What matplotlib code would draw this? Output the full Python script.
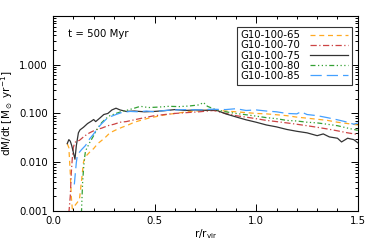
import matplotlib
matplotlib.use("Agg")
import matplotlib.pyplot as plt
from matplotlib.ticker import FixedLocator, MultipleLocator, LogLocator, NullFormatter, FormatStrFormatter

labels = ["G10-100-65", "G10-100-70", "G10-100-75", "G10-100-80", "G10-100-85"]
colors = ["#ffaa22", "#cc4444", "#333333", "#33a033", "#44a0ff"]

x65 = [0.070, 0.078, 0.085, 0.090, 0.095, 0.13, 0.14, 0.15, 0.16, 0.18, 0.20, 0.22, 0.24, 0.26, 0.28, 0.31, 0.34, 0.37, 0.40, 0.44, 0.48, 0.52, 0.56, 0.60, 0.66, 0.72, 0.79, 0.85, 0.90, 0.95, 1.00, 1.05, 1.10, 1.15, 1.20, 1.25, 1.30, 1.35, 1.40, 1.45, 1.50]
y65 = [0.024, 0.020, 0.006, 0.002, 0.0011, 0.0017, 0.004, 0.010, 0.013, 0.016, 0.019, 0.024, 0.028, 0.033, 0.040, 0.046, 0.052, 0.058, 0.066, 0.074, 0.082, 0.088, 0.095, 0.100, 0.108, 0.113, 0.118, 0.112, 0.108, 0.104, 0.100, 0.098, 0.094, 0.090, 0.084, 0.080, 0.076, 0.072, 0.066, 0.062, 0.058]

x70 = [0.078, 0.085, 0.090, 0.095, 0.100, 0.107, 0.115, 0.13, 0.15, 0.17, 0.19, 0.21, 0.24, 0.27, 0.30, 0.33, 0.36, 0.40, 0.45, 0.50, 0.55, 0.60, 0.66, 0.72, 0.79, 0.85, 0.90, 0.95, 1.00, 1.05, 1.10, 1.15, 1.20, 1.25, 1.30, 1.35, 1.40, 1.45, 1.50]
y70 = [0.0009, 0.002, 0.006, 0.012, 0.020, 0.025, 0.027, 0.028, 0.033, 0.038, 0.042, 0.046, 0.050, 0.056, 0.060, 0.066, 0.068, 0.074, 0.082, 0.090, 0.095, 0.100, 0.104, 0.108, 0.115, 0.100, 0.090, 0.084, 0.078, 0.072, 0.068, 0.064, 0.060, 0.056, 0.052, 0.048, 0.044, 0.040, 0.037]

x75 = [0.070, 0.078, 0.085, 0.092, 0.100, 0.108, 0.115, 0.125, 0.133, 0.15, 0.17, 0.19, 0.20, 0.21, 0.23, 0.25, 0.27, 0.29, 0.31, 0.33, 0.36, 0.40, 0.45, 0.50, 0.55, 0.60, 0.65, 0.70, 0.75, 0.80, 0.85, 0.90, 0.95, 1.00, 1.05, 1.10, 1.15, 1.20, 1.25, 1.30, 1.33, 1.36, 1.40, 1.42, 1.45, 1.48, 1.50]
y75 = [0.024, 0.029, 0.027, 0.022, 0.016, 0.0115, 0.022, 0.040, 0.046, 0.052, 0.062, 0.070, 0.075, 0.068, 0.080, 0.095, 0.100, 0.118, 0.128, 0.118, 0.110, 0.112, 0.108, 0.110, 0.114, 0.120, 0.115, 0.118, 0.116, 0.118, 0.098, 0.085, 0.074, 0.066, 0.058, 0.053, 0.047, 0.043, 0.040, 0.035, 0.038, 0.033, 0.031, 0.026, 0.031, 0.029, 0.025]

x80 = [0.140, 0.143, 0.146, 0.150, 0.155, 0.16, 0.18, 0.20, 0.22, 0.24, 0.26, 0.28, 0.31, 0.34, 0.37, 0.40, 0.43, 0.47, 0.52, 0.57, 0.62, 0.67, 0.72, 0.74, 0.76, 0.80, 0.85, 0.90, 0.95, 1.00, 1.05, 1.10, 1.15, 1.20, 1.25, 1.30, 1.35, 1.40, 1.45, 1.50]
y80 = [0.0009, 0.002, 0.004, 0.007, 0.012, 0.017, 0.025, 0.035, 0.050, 0.065, 0.078, 0.090, 0.100, 0.110, 0.118, 0.128, 0.140, 0.132, 0.135, 0.140, 0.138, 0.142, 0.150, 0.168, 0.140, 0.120, 0.108, 0.100, 0.094, 0.088, 0.082, 0.078, 0.072, 0.070, 0.066, 0.064, 0.060, 0.056, 0.050, 0.045]

x85 = [0.105, 0.110, 0.115, 0.120, 0.13, 0.14, 0.16, 0.18, 0.20, 0.22, 0.24, 0.26, 0.28, 0.31, 0.34, 0.38, 0.42, 0.46, 0.50, 0.55, 0.60, 0.66, 0.72, 0.78, 0.85, 0.90, 0.95, 1.00, 1.05, 1.10, 1.15, 1.20, 1.22, 1.25, 1.30, 1.35, 1.40, 1.45, 1.48, 1.50]
y85 = [0.0035, 0.006, 0.010, 0.014, 0.016, 0.018, 0.022, 0.030, 0.038, 0.050, 0.062, 0.075, 0.085, 0.095, 0.105, 0.110, 0.108, 0.112, 0.108, 0.115, 0.118, 0.120, 0.118, 0.122, 0.120, 0.125, 0.115, 0.118, 0.112, 0.108, 0.100, 0.098, 0.108, 0.095, 0.090, 0.082, 0.074, 0.066, 0.060, 0.064]

xs = [x65, x70, x75, x80, x85]
ys = [y65, y70, y75, y80, y85]
styles = [(0, (4, 3)), (0, (5, 2, 1, 2)), "-", (0, (4, 2, 1, 2, 1, 2, 1, 2)), (0, (9, 4))]

plt.rcParams["font.family"] = "DejaVu Sans"
fig = plt.figure(figsize=(3.74, 2.45), dpi=100)
ax = fig.add_axes([0.1417, 0.139, 0.815, 0.796])

for x, y, c, ls, lab in zip(xs, ys, colors, styles, labels):
    ax.plot(x, y, color=c, linestyle=ls, lw=0.9, label=lab)

ax.set_yscale("log")
ax.set_xlim(0, 1.5)
ax.set_ylim(0.001, 10)
ax.yaxis.set_major_locator(FixedLocator([0.001, 0.01, 0.1, 1.0]))
ax.yaxis.set_major_formatter(FormatStrFormatter("%.3f"))
ax.yaxis.set_minor_locator(LogLocator(base=10, subs=range(2, 10)))
ax.yaxis.set_minor_formatter(NullFormatter())
ax.xaxis.set_major_locator(MultipleLocator(0.5))
ax.xaxis.set_minor_locator(MultipleLocator(0.1))
ax.xaxis.set_major_formatter(FormatStrFormatter("%.1f"))

ax.tick_params(which="both", direction="in", top=True, right=True, labelsize=7.3, width=0.7)
ax.tick_params(which="major", length=5)
ax.tick_params(which="minor", length=2.5)
for s in ax.spines.values():
    s.set_linewidth(0.8)

ax.set_xlabel(r"r/r$_{\rm vir}$", fontsize=7.5, labelpad=1)
ax.set_ylabel(r"dM/dt [M$_\odot$ yr$^{-1}$]", fontsize=7.5, labelpad=3)
ax.text(0.05, 0.905, "t = 500 Myr", transform=ax.transAxes, fontsize=7.3, va="center", ha="left")

leg = ax.legend(loc="upper right", bbox_to_anchor=(0.98, 0.945), markerfirst=False, fontsize=7.3,
                frameon=True, fancybox=False, edgecolor="#333333", framealpha=1,
                handlelength=3.8, labelspacing=0.02, borderpad=0.35, handletextpad=0.9, borderaxespad=0)
leg.get_frame().set_linewidth(0.8)

fig.savefig("out.png", dpi=100)
